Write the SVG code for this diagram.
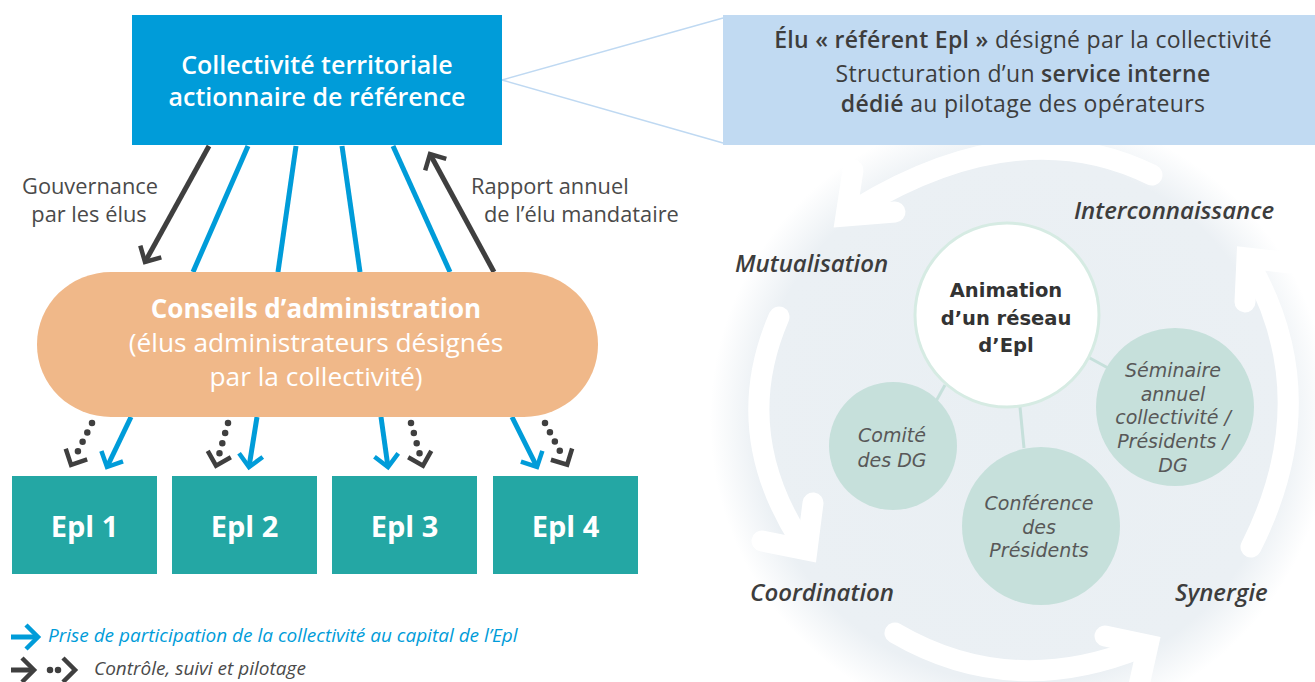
<svg xmlns="http://www.w3.org/2000/svg" width="1315" height="682" viewBox="0 0 1315 682">
<defs>
<style>
text{font-family:"Open Sans","Noto Sans","Liberation Sans",sans-serif}
.wt{fill:#fff;font-weight:600;text-anchor:middle}
.lbl{fill:#4a4a4a;font-size:21.8px}
.blue{stroke:#009cd9;stroke-width:5;fill:none}
.dark{stroke:#3f3f3f;stroke-width:5;fill:none}
.dots{stroke:#3f3f3f;stroke-width:6.5;fill:none;stroke-linecap:round;stroke-dasharray:0 10.5}
.epl{fill:#24a7a4}
.ept{fill:#fff;font-weight:700;font-size:29px;text-anchor:middle}
.warc{stroke:#fff;stroke-width:21;fill:none;stroke-linecap:round}
.whd{stroke:#fff;stroke-width:21;fill:none;stroke-linecap:round;stroke-linejoin:miter}
.cyc{fill:#3d3d3d;font-size:24px;font-style:italic;font-weight:600}
.sm{fill:#c6e0db}
.smt{fill:#585858;font-family:"DejaVu Sans","Open Sans",sans-serif;font-size:19px;font-style:italic;text-anchor:middle}
.cl{stroke:#c6e0db;stroke-width:3}
.rb{fill:#3d3d3d;font-size:23px;letter-spacing:0.3px;text-anchor:middle}
.an{fill:#333;font-family:"DejaVu Sans","Open Sans",sans-serif;font-size:19.5px;font-weight:700;text-anchor:middle}
</style>
<marker id="hb" viewBox="-16 -14 20 28" refX="0" refY="0" markerWidth="20" markerHeight="28" markerUnits="userSpaceOnUse" orient="auto">
<path d="M-12,-12 L0,0 L-12,12" fill="none" stroke="#009cd9" stroke-width="4.5"/>
</marker>
<marker id="hd" viewBox="-16 -14 20 28" refX="0" refY="0" markerWidth="20" markerHeight="28" markerUnits="userSpaceOnUse" orient="auto">
<path d="M-12,-12 L0,0 L-12,12" fill="none" stroke="#3f3f3f" stroke-width="4.5"/>
</marker>
<marker id="hdd" viewBox="-28 -14 32 28" refX="-11" refY="0" markerWidth="32" markerHeight="28" markerUnits="userSpaceOnUse" orient="auto">
<path d="M-12,-12 L0,0 L-12,12" fill="none" stroke="#3f3f3f" stroke-width="4.5"/>
</marker>
<radialGradient id="bg" cx="1020" cy="420" r="310" gradientUnits="userSpaceOnUse">
<stop offset="0" stop-color="#e9eff3"/>
<stop offset="0.85" stop-color="#ebf0f4"/>
<stop offset="1" stop-color="#ebf0f4" stop-opacity="0"/>
</radialGradient>
</defs>
<rect width="1315" height="682" fill="#fff"/>

<circle cx="1020" cy="420" r="310" fill="url(#bg)"/>

<g id="cycle-arrows">
<path class="warc" d="M1152,175 Q1020,110 858,208"/>
<path class="whd" d="M853,170 L846,216 L895,212"/>
<path class="warc" d="M779,317 Q730,430 800,540"/>
<path class="whd" d="M762,541 L807,550 L813,503"/>
<path class="warc" d="M895,633 Q1010,700 1140,648"/>
<path class="whd" d="M1105,636 L1148,645 L1138,690"/>
<path class="warc" d="M1251,547 Q1325,400 1252,268"/>
<path class="whd" d="M1290,263 L1247,258 L1245,302"/>
</g>

<g id="connectors">
<line x1="502" y1="80" x2="723" y2="18" stroke="#bfd9f2" stroke-width="1.5"/>
<line x1="502" y1="80" x2="723" y2="143" stroke="#bfd9f2" stroke-width="1.5"/>
<line class="dark" x1="209" y1="146" x2="145" y2="262" marker-end="url(#hd)"/>
<line class="blue" x1="248" y1="146" x2="193" y2="272"/>
<line class="blue" x1="296" y1="146" x2="278" y2="272"/>
<line class="blue" x1="342" y1="146" x2="360" y2="272"/>
<line class="blue" x1="393" y1="146" x2="450" y2="272"/>
<line class="dark" x1="494" y1="272" x2="430" y2="154" marker-end="url(#hd)"/>
<line class="blue" x1="131" y1="417" x2="107" y2="467" marker-end="url(#hb)"/>
<line class="blue" x1="257" y1="417" x2="249" y2="467" marker-end="url(#hb)"/>
<line class="blue" x1="381" y1="417" x2="388" y2="467" marker-end="url(#hb)"/>
<line class="blue" x1="512" y1="417" x2="537" y2="467" marker-end="url(#hb)"/>
<path class="dots" d="M92,423 L76,455" marker-end="url(#hdd)"/>
<path class="dots" d="M228,423 L219,455" marker-end="url(#hdd)"/>
<path class="dots" d="M411,423 L420,455" marker-end="url(#hdd)"/>
<path class="dots" d="M545,423 L562,455" marker-end="url(#hdd)"/>
<line class="cl" x1="945" y1="385" x2="935" y2="403"/>
<line class="cl" x1="1020" y1="407" x2="1024" y2="448"/>
<line class="cl" x1="1088" y1="357" x2="1108" y2="368"/>
</g>

<g id="collectivite">
<rect x="132" y="15" width="370" height="130" fill="#009cd9"/>
<text class="wt" font-size="25" x="317" y="73.5">Collectivité territoriale<tspan x="317" dy="32">actionnaire de référence</tspan></text>
</g>

<g id="referent">
<rect x="723" y="15" width="592" height="130" fill="#c1daf2"/>
<text class="rb" x="1023" y="48"><tspan font-weight="600">Élu « référent Epl »</tspan> désigné par la collectivité</text>
<text class="rb" x="1023" y="82">Structuration d’un <tspan font-weight="600">service interne</tspan><tspan x="1023" dy="30" font-weight="600">dédié</tspan> au pilotage des opérateurs</text>
</g>

<g id="labels">
<text class="lbl" x="90" y="194" text-anchor="middle">Gouvernance<tspan x="89" dy="28">par les élus</tspan></text>
<text class="lbl" x="471" y="194">Rapport annuel<tspan x="484" dy="28">de l’élu mandataire</tspan></text>
</g>

<g id="conseils">
<rect x="37" y="272" width="561" height="145" rx="74" ry="72" fill="#f0b889"/>
<text x="316" y="318" font-size="26.3" fill="#fff" text-anchor="middle"><tspan font-weight="700" font-size="26">Conseils d’administration</tspan><tspan x="316" dy="34">(élus administrateurs désignés</tspan><tspan x="316" dy="34">par la collectivité)</tspan></text>
</g>

<g id="epl1"><rect class="epl" x="12" y="476" width="145" height="98"/><text class="ept" x="84.5" y="537">Epl 1</text></g>
<g id="epl2"><rect class="epl" x="172" y="476" width="145" height="98"/><text class="ept" x="244.5" y="537">Epl 2</text></g>
<g id="epl3"><rect class="epl" x="332" y="476" width="145" height="98"/><text class="ept" x="404.5" y="537">Epl 3</text></g>
<g id="epl4"><rect class="epl" x="493" y="476" width="145" height="98"/><text class="ept" x="565.5" y="537">Epl 4</text></g>

<g id="legend">
<line class="blue" x1="11" y1="637" x2="38" y2="637" marker-end="url(#hb)"/>
<text x="48" y="642" font-size="19" font-style="italic" fill="#009cd9">Prise de participation de la collectivité au capital de l’Epl</text>
<line class="dark" x1="11" y1="670" x2="34" y2="670" marker-end="url(#hd)"/>
<path class="dots" style="stroke-dasharray:0 8" d="M50,670 L64,670" marker-end="url(#hdd)"/>
<text x="94" y="675" font-size="19" font-style="italic" fill="#4a4a4a">Contrôle, suivi et pilotage</text>
</g>

<g id="cycle-labels">
<text class="cyc" x="1074" y="219">Interconnaissance</text>
<text class="cyc" x="735" y="272">Mutualisation</text>
<text class="cyc" x="750" y="601">Coordination</text>
<text class="cyc" x="1175" y="601">Synergie</text>
</g>

<g id="animation">
<circle cx="1007" cy="315" r="92" fill="#fff" stroke="#d6ebe3" stroke-width="3"/>
<text class="an" x="1006" y="297">Animation<tspan x="1006" dy="28">d’un réseau</tspan><tspan x="1006" dy="27">d’Epl</tspan></text>
</g>

<g id="comite">
<circle class="sm" cx="893" cy="446" r="64"/>
<text class="smt" x="892" y="442">Comité<tspan x="892" dy="25">des DG</tspan></text>
</g>

<g id="conference">
<circle class="sm" cx="1041" cy="526" r="79"/>
<text class="smt" x="1039" y="510">Conférence<tspan x="1039" dy="23.5">des</tspan><tspan x="1039" dy="23.5">Présidents</tspan></text>
</g>

<g id="seminaire">
<circle class="sm" cx="1175" cy="407" r="79"/>
<text class="smt" x="1173" y="377">Séminaire<tspan x="1173" dy="23.5">annuel</tspan><tspan x="1173" dy="23.5">collectivité /</tspan><tspan x="1173" dy="24">Présidents /</tspan><tspan x="1173" dy="24">DG</tspan></text>
</g>
</svg>
